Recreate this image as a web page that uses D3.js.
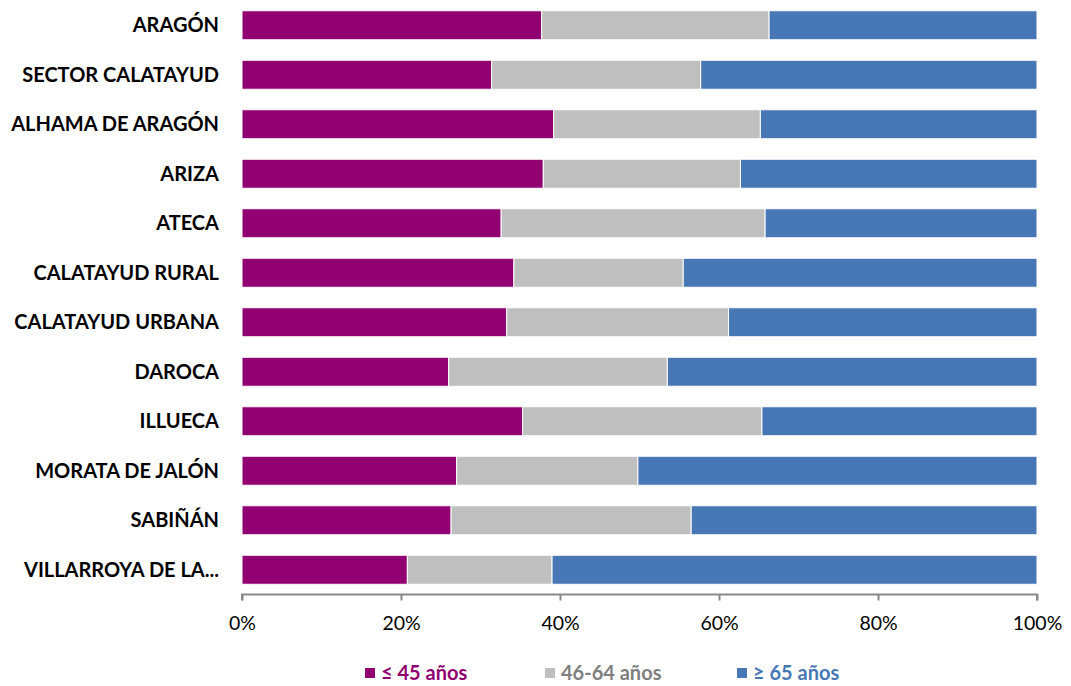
<!DOCTYPE html>
<html>
<head>
<meta charset="utf-8">
<script src="https://cdn.jsdelivr.net/npm/d3@7/dist/d3.min.js"></script>
<style>
  html, body { margin: 0; padding: 0; background: #fff; }
  svg { display: block; font-family: Lato, "Open Sans", sans-serif; }
</style>
</head>
<body>
<svg id="chart" width="1071" height="686"></svg>
<script>
// Territories (top to bottom)
const categories = [
  "ARAGÓN", "SECTOR CALATAYUD", "ALHAMA DE ARAGÓN", "ARIZA", "ATECA",
  "CALATAYUD RURAL", "CALATAYUD URBANA", "DAROCA", "ILLUECA",
  "MORATA DE JALÓN", "SABIÑÁN", "VILLARROYA DE LA..."
];
// Share of population by age group (%)
const under45 = [37.7, 31.4, 39.2, 37.9, 32.6, 34.2, 33.3, 26.0, 35.3, 27.0, 26.3, 20.8];
const age46to64 = [28.6, 26.3, 26.0, 24.8, 33.2, 21.3, 27.9, 27.5, 30.1, 22.8, 30.2, 18.2];
const over65 = [33.7, 42.3, 34.8, 37.3, 34.2, 44.5, 38.8, 46.5, 34.6, 50.2, 43.5, 61.0];

const seriesNames = ["≤ 45 años", "46-64 años", "≥ 65 años"];
const seriesColors = ["#910071", "#bfbfbf", "#4877b6"];
const legendTextColors = ["#910071", "#7f7f7f", "#4877b6"];
const tickValues = [0, 0.2, 0.4, 0.6, 0.8, 1];

const rows = categories.map((c, i) => ({
  cat: c, "≤ 45 años": under45[i], "46-64 años": age46to64[i], "≥ 65 años": over65[i]
}));
// Normalise each row to 100%
const stacked = d3.stack().keys(seriesNames)
  .offset(d3.stackOffsetExpand)(rows);

const svg = d3.select("#chart");
const x = d3.scaleLinear().domain([0, 1]).range([242, 1037]);
const y = d3.scaleBand().domain(categories).range([0.5, 594.5])
  .paddingInner(0.414).paddingOuter(0.207);

// Bars
svg.append("g").selectAll("g").data(stacked).join("g")
  .attr("fill", (d, i) => seriesColors[i])
  .selectAll("rect").data(d => d).join("rect")
  .attr("x", d => x(d[0]))
  .attr("y", d => y(d.data.cat))
  .attr("width", d => x(d[1]) - x(d[0]))
  .attr("height", y.bandwidth())
  .attr("stroke", "#fff")
  .attr("stroke-width", 1);

// Category labels
svg.append("g").selectAll("text").data(categories).join("text")
  .attr("x", 219)
  .attr("y", d => y(d) + y.bandwidth() / 2)
  .attr("dy", "0.35em")
  .attr("text-anchor", "end")
  .attr("font-weight", "bold")
  .attr("font-size", 20)
  .attr("fill", "#000")
  .text(d => d);

// Bottom axis
const axis = svg.append("g")
  .attr("transform", "translate(0,594.5)")
  .call(d3.axisBottom(x).tickValues(tickValues).tickFormat(d3.format(".0%"))
    .tickSize(6).tickPadding(16));
axis.select(".domain").attr("stroke", "#898989").attr("stroke-width", 2)
  .attr("d", `M${x(0)},6V0H${x(1)}V6`);
axis.selectAll(".tick line").attr("stroke", "#898989").attr("stroke-width", 2);
axis.selectAll(".tick text").attr("font-size", 19.5).attr("fill", "#000")
  .attr("font-family", "Lato, 'Open Sans', sans-serif");

// Legend
const legendX = [365, 545, 737];
const legend = svg.append("g").selectAll("g").data(seriesNames).join("g")
  .attr("transform", (d, i) => `translate(${legendX[i]},673)`);
legend.append("rect")
  .attr("x", 0).attr("y", -5).attr("width", 10).attr("height", 10)
  .attr("fill", (d, i) => seriesColors[i]);
legend.append("text")
  .attr("x", 16).attr("dy", "0.35em")
  .attr("font-size", 20).attr("font-weight", "bold")
  .attr("fill", (d, i) => legendTextColors[i])
  .text(d => d);
</script>
</body>
</html>
